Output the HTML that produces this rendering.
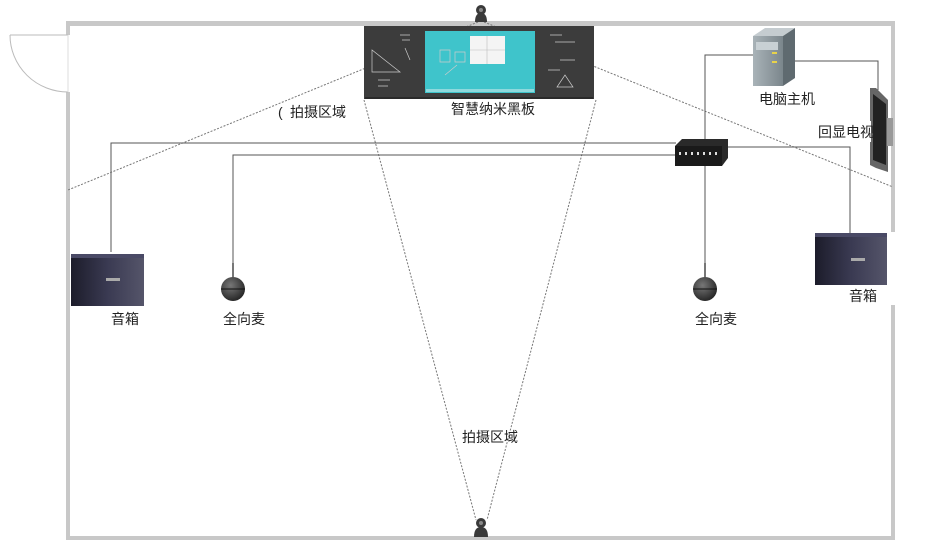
<!DOCTYPE html>
<html><head><meta charset="utf-8"><style>
html,body{margin:0;padding:0;background:#fff;width:936px;height:540px;overflow:hidden}
svg{display:block}
text{font-family:"Liberation Sans","Noto Sans CJK SC",sans-serif;font-size:14px;fill:#222}
</style></head><body>
<svg width="936" height="540" viewBox="0 0 936 540" xmlns="http://www.w3.org/2000/svg">
<defs>
<linearGradient id="spk" x1="0" y1="0" x2="1" y2="0">
<stop offset="0" stop-color="#1c1c2a"/><stop offset="0.5" stop-color="#3a3a52"/><stop offset="1" stop-color="#55556a"/></linearGradient>
<radialGradient id="mic" cx="0.4" cy="0.35" r="0.7"><stop offset="0" stop-color="#777"/><stop offset="1" stop-color="#222"/></radialGradient>
<linearGradient id="pc" x1="0" y1="0" x2="1" y2="0"><stop offset="0" stop-color="#a9b3b8"/><stop offset="1" stop-color="#7b868c"/></linearGradient>
</defs>
<rect x="66" y="21" width="828" height="5" fill="#c8c8c8"/>
<rect x="66" y="21" width="4" height="14" fill="#c8c8c8"/>
<rect x="66" y="92" width="4" height="448" fill="#c8c8c8"/>
<rect x="891" y="21" width="4" height="211" fill="#c8c8c8"/>
<rect x="891" y="305" width="4" height="235" fill="#c8c8c8"/>
<rect x="66" y="536" width="829" height="4" fill="#c8c8c8"/>
<line x1="10" y1="35" x2="68" y2="35" stroke="#bbb" stroke-width="1"/>
<path d="M10 35 A58 57 0 0 0 68 92" fill="none" stroke="#bbb" stroke-width="1"/>
<line x1="68" y1="35" x2="68" y2="92" stroke="#ddd" stroke-width="1"/>
<g stroke="#777" stroke-width="1" stroke-dasharray="2,1.5" fill="none">
<line x1="478" y1="22" x2="68" y2="190"/>
<line x1="484" y1="22" x2="893" y2="187"/>
<line x1="364" y1="100" x2="476" y2="520"/>
<line x1="596" y1="100" x2="487" y2="520"/>
</g>
<g stroke="#555" stroke-width="1" fill="none">
<polyline points="705,140 705,55 753,55"/>
<polyline points="795,61 878,61 878,90"/>
<polyline points="676,143 111,143 111,252"/>
<polyline points="676,155 233,155 233,280"/>
<polyline points="728,147 850,147 850,233"/>
<polyline points="705,166 705,280"/>
</g>
<rect x="364" y="26" width="230" height="73" fill="#3c3c3c"/>
<rect x="365" y="97" width="228" height="2" fill="#2a2a2a"/>
<rect x="425" y="31" width="110" height="62" fill="#3fc4cb"/>
<rect x="470" y="36" width="35" height="28" fill="#f4f4f4"/>
<line x1="487" y1="36" x2="487" y2="64" stroke="#bbb" stroke-width="0.6"/>
<line x1="470" y1="50" x2="505" y2="50" stroke="#bbb" stroke-width="0.6"/>
<rect x="426" y="89" width="108" height="3" fill="#8fd9dd"/>
<g stroke="#ccc" stroke-width="0.7" fill="none">
<polygon points="372,50 372,72 400,72"/>
<path d="M400 35 l10 0 M402 40 l8 0 M405 48 l5 12 M378 80 l12 0 M378 86 l10 0"/>
<path d="M550 35 l12 0 M555 42 l20 0 M560 60 l15 0 M548 70 l12 0 M565 75 l-8 12 l16 0 z"/>
<path d="M440 50 h10 v12 h-10z M455 52 h10 v10 h-10z M445 75 l12 -10"/>
</g>
<g fill="#3a3a3a">
<circle cx="481" cy="10" r="5"/><path d="M475 22 Q475 13 481 13 Q487 13 487 22 z"/>
<circle cx="481" cy="523" r="5"/><path d="M474 537 Q474 527 481 527 Q488 527 488 537 z"/>
</g>
<circle cx="481" cy="10" r="2" fill="#888"/>
<circle cx="481" cy="523" r="2" fill="#888"/>
<polygon points="753,36 765,28 795,28 783,36" fill="#c5ccd0"/>
<polygon points="783,36 795,28 795,78 783,86" fill="#5f6a70"/>
<rect x="753" y="36" width="30" height="50" fill="url(#pc)"/>
<rect x="756" y="42" width="22" height="8" fill="#c8d0d4"/>
<rect x="772" y="52" width="5" height="2" fill="#e8d24a"/>
<rect x="772" y="61" width="5" height="2" fill="#e8d24a"/>
<polygon points="870,88 876,88 888,100 888,172 876,168 870,165" fill="#666"/>
<polygon points="873,94 886,104 886,165 873,160" fill="#222"/>
<rect x="887" y="118" width="6" height="28" fill="#999"/>
<polygon points="675,146 682,139 728,139 728,158 722,166 675,166" fill="#2a2a2a"/>
<rect x="675" y="146" width="47" height="20" fill="#1a1a1a"/>
<g fill="#ddd"><rect x="679" y="152" width="2" height="3"/><rect x="685" y="152" width="2" height="3"/><rect x="691" y="152" width="2" height="3"/><rect x="697" y="152" width="2" height="3"/><rect x="703" y="152" width="2" height="3"/><rect x="709" y="152" width="2" height="3"/><rect x="715" y="152" width="2" height="3"/></g>
<rect x="71" y="254" width="73" height="52" fill="url(#spk)"/>
<rect x="71" y="254" width="73" height="4" fill="#4a4a66"/>
<rect x="106" y="278" width="14" height="3" fill="#aaa"/>
<rect x="815" y="233" width="72" height="52" fill="url(#spk)"/>
<rect x="815" y="233" width="72" height="4" fill="#4a4a66"/>
<rect x="851" y="258" width="14" height="3" fill="#aaa"/>
<rect x="232" y="263" width="2" height="14" fill="#777"/>
<circle cx="233" cy="289" r="12" fill="url(#mic)"/>
<line x1="221" y1="289" x2="245" y2="289" stroke="#111" stroke-width="1"/>
<rect x="704" y="263" width="2" height="14" fill="#777"/>
<circle cx="705" cy="289" r="12" fill="url(#mic)"/>
<line x1="693" y1="289" x2="717" y2="289" stroke="#111" stroke-width="1"/>
<rect x="448" y="99" width="92" height="19" fill="#fff"/>
<rect x="814" y="121" width="57" height="21" fill="#fff"/>
<text x="493" y="114" text-anchor="middle">智慧纳米黑板</text>
<text x="787" y="104" text-anchor="middle">电脑主机</text>
<text x="818" y="137">回显电视</text>
<text x="290" y="117">拍摄区域</text>
<text x="278" y="117" fill="#aaa" font-size="9">(</text>
<text x="462" y="442">拍摄区域</text>
<text x="111" y="324">音箱</text>
<text x="849" y="301">音箱</text>
<text x="223" y="324">全向麦</text>
<text x="695" y="324">全向麦</text>
</svg>
</body></html>
